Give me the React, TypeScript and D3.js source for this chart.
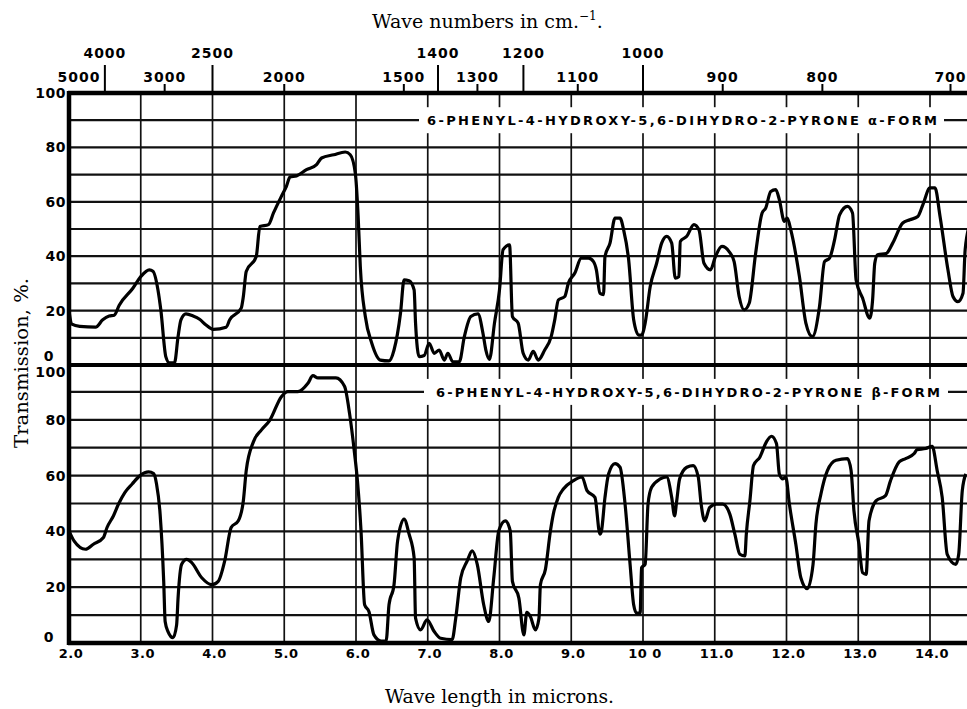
import React from "react";
import * as d3 from "d3";

// Wavelength (microns) / transmission (%)
const topWave = [2.0, 2.04, 2.15, 2.37, 2.47, 2.56, 2.63, 2.7, 2.89, 3.0, 3.12, 3.17, 3.24, 3.28, 3.35, 3.4, 3.47, 3.52, 3.56, 3.63, 3.73, 3.82, 3.91, 4.01, 4.19, 4.24, 4.4, 4.43, 4.47, 4.61, 4.66, 4.78, 4.85, 4.96, 5.03, 5.08, 5.17, 5.31, 5.45, 5.52, 5.69, 5.85, 5.92, 5.99, 6.03, 6.06, 6.13, 6.22, 6.34, 6.46, 6.53, 6.62, 6.67, 6.74, 6.81, 6.83, 6.88, 6.95, 7.02, 7.09, 7.16, 7.23, 7.28, 7.35, 7.44, 7.51, 7.6, 7.7, 7.77, 7.81, 7.86, 7.93, 8.0, 8.05, 8.14, 8.18, 8.26, 8.33, 8.4, 8.47, 8.54, 8.63, 8.72, 8.77, 8.82, 8.91, 8.96, 9.05, 9.14, 9.24, 9.31, 9.35, 9.4, 9.45, 9.47, 9.54, 9.61, 9.68, 9.73, 9.8, 9.87, 9.94, 9.98, 10.03, 10.1, 10.19, 10.26, 10.33, 10.4, 10.45, 10.5, 10.52, 10.61, 10.71, 10.78, 10.85, 10.94, 11.01, 11.1, 11.2, 11.27, 11.34, 11.41, 11.48, 11.57, 11.66, 11.71, 11.78, 11.85, 11.9, 11.97, 12.01, 12.06, 12.18, 12.27, 12.36, 12.46, 12.53, 12.6, 12.67, 12.74, 12.85, 12.92, 12.97, 13.06, 13.16, 13.2, 13.23, 13.27, 13.39, 13.48, 13.62, 13.72, 13.83, 13.9, 14.0, 14.07, 14.14, 14.25, 14.32, 14.39, 14.46, 14.49, 14.56];
const topTrans = [20, 15, 14.2, 13.9, 16.6, 18, 18.3, 22, 28.2, 32.5, 35, 34.5, 27.6, 20.2, 3, 0.8, 0.8, 10.4, 16.6, 18.8, 18, 16.8, 14.7, 13.1, 13.9, 16.6, 20.9, 25.2, 34.4, 39.9, 50.9, 51.6, 55.9, 62, 65.7, 69.1, 69.5, 71.8, 73.7, 76.1, 77.3, 78.3, 77.3, 70.6, 54.6, 36.2, 17.8, 8, 1.8, 1.5, 5.5, 19, 31.3, 31, 27.6, 15.4, 3.1, 3.5, 8, 4.3, 5.5, 1.8, 4.3, 1.2, 1.2, 10.4, 17.8, 18.8, 11.6, 5.5, 2.1, 15.4, 27.6, 42.4, 44.2, 17.8, 15.4, 4.3, 1.8, 5, 1.8, 5.5, 10.4, 16.6, 23.9, 25.2, 30.1, 33.8, 39.3, 39.3, 38, 35, 26.4, 25.9, 39.9, 44.8, 54, 54, 49.7, 38.7, 16.6, 11, 11, 15.4, 28.8, 37.4, 44.8, 47.3, 44.8, 31.9, 32.5, 45.4, 47.3, 51.6, 49.7, 37.4, 35, 39.9, 43.6, 41.7, 38, 25.2, 20.3, 22.7, 41.1, 55.9, 57.7, 63.8, 64.5, 60.8, 52.8, 54, 49.7, 32.5, 15.4, 10.4, 21.5, 38, 39.3, 46, 55.2, 58.3, 55.9, 31.3, 24.6, 17.2, 23.9, 37.4, 40.5, 41, 44.8, 52.2, 53.4, 54.6, 58.9, 65.1, 65.1, 54.6, 35, 25.2, 23.3, 26.4, 42.4, 52.2];

// Beta-form trace
const botWave = [2.0, 2.07, 2.23, 2.34, 2.48, 2.53, 2.62, 2.69, 2.78, 2.88, 2.99, 3.11, 3.18, 3.22, 3.27, 3.32, 3.34, 3.38, 3.45, 3.5, 3.52, 3.57, 3.64, 3.71, 3.85, 3.99, 4.08, 4.17, 4.26, 4.36, 4.43, 4.47, 4.57, 4.68, 4.8, 4.96, 5.05, 5.19, 5.33, 5.4, 5.47, 5.72, 5.84, 5.91, 5.98, 6.02, 6.07, 6.12, 6.18, 6.25, 6.35, 6.42, 6.46, 6.53, 6.58, 6.67, 6.74, 6.81, 6.83, 6.9, 6.99, 7.09, 7.18, 7.34, 7.39, 7.46, 7.55, 7.62, 7.69, 7.78, 7.85, 7.92, 7.99, 8.08, 8.15, 8.18, 8.27, 8.34, 8.38, 8.43, 8.5, 8.55, 8.57, 8.64, 8.71, 8.75, 8.82, 8.89, 9.03, 9.15, 9.22, 9.33, 9.4, 9.42, 9.47, 9.52, 9.61, 9.68, 9.75, 9.82, 9.87, 9.91, 9.96, 9.98, 10.03, 10.07, 10.12, 10.24, 10.33, 10.4, 10.44, 10.47, 10.51, 10.61, 10.7, 10.77, 10.81, 10.86, 10.93, 11.02, 11.11, 11.21, 11.28, 11.35, 11.42, 11.44, 11.49, 11.54, 11.63, 11.72, 11.79, 11.86, 11.9, 11.95, 11.99, 12.04, 12.13, 12.2, 12.29, 12.37, 12.41, 12.48, 12.57, 12.69, 12.85, 12.9, 12.94, 13.01, 13.06, 13.11, 13.15, 13.25, 13.38, 13.45, 13.57, 13.66, 13.78, 13.82, 13.94, 14.03, 14.1, 14.17, 14.24, 14.36, 14.4, 14.45, 14.5];
const botTrans = [40.2, 36.6, 33.6, 35.4, 37.8, 41.4, 45.6, 49.8, 54, 57, 60, 61.3, 60.7, 57, 46.2, 22.1, 7.7, 4.1, 1.9, 6.5, 16.1, 28.2, 30, 28.8, 23.4, 20.9, 22.1, 29.4, 41.4, 43.8, 51, 61.8, 72.1, 76.3, 79.9, 88.3, 90.1, 90.1, 93.1, 95.8, 95, 95, 92, 82.3, 67.9, 58.2, 40.2, 13.7, 11.3, 2.9, 0.7, 0.8, 13.7, 20.9, 36.6, 44.4, 39, 30.6, 8.9, 4.7, 8.3, 4.1, 1.7, 1.2, 8.9, 23.4, 29.4, 33, 28.2, 13.7, 7.7, 23.4, 40.2, 43.8, 40.2, 22.1, 16.1, 2.9, 11, 9.5, 4.7, 8.9, 20.9, 26.4, 40.2, 46.2, 52.2, 55.2, 58.2, 59.5, 54.6, 52.2, 39, 40, 52.2, 60.6, 64.3, 63, 49.8, 28.2, 13.7, 10.7, 10.7, 27, 28.2, 49.8, 55.8, 58.8, 59.5, 52.2, 45.6, 51, 58.8, 63, 63.6, 59.5, 49.8, 43.8, 48.6, 49.8, 49.8, 46.2, 39, 31.8, 31.2, 39, 51, 63.6, 66.7, 72.1, 74.1, 71.5, 60.6, 58.8, 59.5, 49.8, 35.4, 23.4, 19.5, 28.2, 42.6, 53.4, 61.8, 65.5, 66.1, 61.8, 47.4, 35.4, 25.2, 24.6, 43.8, 51, 52.8, 58.2, 64.9, 66.1, 67.9, 69.3, 69.7, 70.5, 61.8, 52.2, 31.8, 28.2, 31.8, 54.6, 60.6];

const micronTicks = [2, 3, 4, 5, 6, 7, 8, 9, 10, 11, 12, 13, 14];
const micronLabels = ["2.0", "3.0", "4.0", "5.0", "6.0", "7.0", "8.0", "9.0", "10 0", "11.0", "12.0", "13.0", "14.0"];
const waveNumMajor = [4000, 2500, 1400, 1200, 1000];
const waveNumMinor = [5000, 3000, 2000, 1500, 1300, 1100, 900, 800, 700];
const transTicks = [0, 20, 40, 60, 80, 100];
const gridLevels = [10, 20, 30, 40, 50, 60, 70, 80, 90];
const topLabel = "6-PHENYL-4-HYDROXY-5,6-DIHYDRO-2-PYRONE  α-FORM";
const botLabel = "6-PHENYL-4-HYDROXY-5,6-DIHYDRO-2-PYRONE  β-FORM";

const SANS = "'DejaVu Sans', sans-serif";
const SERIF = "'DejaVu Serif', serif";

export default function App() {
  const W = 967;
  const H = 709;
  const x = d3.scaleLinear().domain([2, 14]).range([69, 930]);
  const yTop = d3.scaleLinear().domain([0, 100]).range([365, 93]);
  const yBot = d3.scaleLinear().domain([0, 100]).range([643, 364]);
  const xLeft = x(2);

  const mkLine = (ws: number[], ts: number[], y: d3.ScaleLinear<number, number>) =>
    d3
      .line<number>()
      .x((_, i) => x(ws[i]))
      .y((t) => y(t))
      .curve(d3.curveMonotoneX)(ts) as string;

  const panels = [
    { y: yTop, label: topLabel, labelStart: 427, labelLen: 510, boxL: 419, boxR: 944, top: true },
    { y: yBot, label: botLabel, labelStart: 436, labelLen: 504, boxL: 424, boxR: 948, top: false },
  ];

  return (
    <svg
      width={W}
      height={H}
      viewBox={`0 0 ${W} ${H}`}
      style={{ position: "absolute", left: 0, top: 0, background: "#fff" }}
    >
      <rect x={0} y={0} width={W} height={H} fill="#fff" />
      <defs>
        <clipPath id="plotclip">
          <rect x={xLeft} y={yTop(100)} width={W - xLeft} height={yBot(0) - yTop(100)} />
        </clipPath>
      </defs>

      {/* Horizontal grid lines */}
      {panels.map((p, pi) =>
        gridLevels.map((g) => (
          <line key={`h${pi}-${g}`} x1={xLeft} x2={W} y1={p.y(g)} y2={p.y(g)} stroke="#111" strokeWidth={2.2} />
        ))
      )}
      {/* Vertical grid lines */}
      {micronTicks.slice(1).map((m) => (
        <line key={`v${m}`} x1={x(m)} x2={x(m)} y1={yTop(100)} y2={yBot(0)} stroke="#111" strokeWidth={1.7} />
      ))}

      {/* Panel labels sitting on the 90 % line */}
      {panels.map((p, pi) => {
        const cy = p.y(90);
        return (
          <g key={`lab${pi}`}>
            <rect x={p.boxL} y={cy - 13} width={p.boxR - p.boxL} height={26} fill="#fff" />
            <text
              x={p.labelStart}
              y={cy + 5}
              fontFamily={SANS}
              fontWeight="bold"
              fontSize={13}
              textLength={p.labelLen}
              lengthAdjust="spacing"
              fill="#000"
            >
              {p.label}
            </text>
          </g>
        );
      })}

      {/* Frame lines */}
      <line x1={xLeft - 1} x2={W} y1={yTop(100)} y2={yTop(100)} stroke="#000" strokeWidth={4.5} />
      <line x1={xLeft - 1} x2={W} y1={yTop(0)} y2={yTop(0)} stroke="#000" strokeWidth={4} />
      <line x1={xLeft - 1} x2={W} y1={yBot(0)} y2={yBot(0)} stroke="#000" strokeWidth={4.5} />
      <line x1={xLeft} x2={xLeft} y1={yTop(100) - 2} y2={yBot(0) + 2} stroke="#000" strokeWidth={4.5} />

      {/* Spectra */}
      <g clipPath="url(#plotclip)">
        <path d={mkLine(topWave, topTrans, yTop)} fill="none" stroke="#000" strokeWidth={3.2} strokeLinejoin="round" />
        <path d={mkLine(botWave, botTrans, yBot)} fill="none" stroke="#000" strokeWidth={3.2} strokeLinejoin="round" />
      </g>

      {/* Left transmission tick labels */}
      {panels.map((p, pi) =>
        transTicks.map((t) => {
          const isZero = t === 0;
          const dy = isZero ? (p.top ? -9 : -6) : !p.top && t === 100 ? 8 : 0;
          return (
            <text
              key={`yl${pi}-${t}`}
              x={isZero ? 54 : 66}
              y={p.y(t) + dy + 5}
              textAnchor="end"
              fontFamily={SANS}
              fontWeight="bold"
              fontSize={14}
              letterSpacing={0.5}
              fill="#000"
            >
              {t}
            </text>
          );
        })
      )}

      {/* Bottom micron labels */}
      {micronTicks.map((m, i) => (
        <text
          key={`xl${m}`}
          x={x(m) + 2}
          y={658}
          textAnchor="middle"
          fontFamily={SANS}
          fontWeight="bold"
          fontSize={13}
          letterSpacing={0.5}
          fill="#000"
        >
          {micronLabels[i]}
        </text>
      ))}

      {/* Top wave-number axis */}
      {waveNumMajor.map((wn) => {
        const px = x(10000 / wn);
        return (
          <g key={`wM${wn}`}>
            <line x1={px} x2={px} y1={65} y2={yTop(100)} stroke="#000" strokeWidth={2} />
            <text x={px} y={58} textAnchor="middle" fontFamily={SANS} fontWeight="bold" fontSize={14} letterSpacing={1} fill="#000">
              {wn}
            </text>
          </g>
        );
      })}
      {waveNumMinor.map((wn) => {
        const w = 10000 / wn;
        const px = x(w);
        return (
          <g key={`wm${wn}`}>
            {w > 2 && <line x1={px} x2={px} y1={84} y2={yTop(100)} stroke="#000" strokeWidth={2} />}
            <text
              x={w > 2 ? px : px + 10}
              y={82}
              textAnchor="middle"
              fontFamily={SANS}
              fontWeight="bold"
              fontSize={14}
              letterSpacing={1}
              fill="#000"
            >
              {wn}
            </text>
          </g>
        );
      })}

      {/* Titles */}
      <text x={372} y={28} fontFamily={SERIF} fontSize={19} fill="#000">
        Wave numbers in cm.
        <tspan dy={-8} fontSize={12}>−1</tspan>
        <tspan dy={8}>.</tspan>
      </text>
      <text
        x={385}
        y={703}
        fontFamily={SERIF}
        fontSize={19}
        textLength={229}
        lengthAdjust="spacingAndGlyphs"
        fill="#000"
      >
        Wave length in microns.
      </text>
      <text
        transform={`translate(28, 363) rotate(-90)`}
        textAnchor="middle"
        fontFamily={SERIF}
        fontSize={19}
        textLength={170}
        lengthAdjust="spacingAndGlyphs"
        fill="#000"
      >
        Transmission, %.
      </text>
    </svg>
  );
}
